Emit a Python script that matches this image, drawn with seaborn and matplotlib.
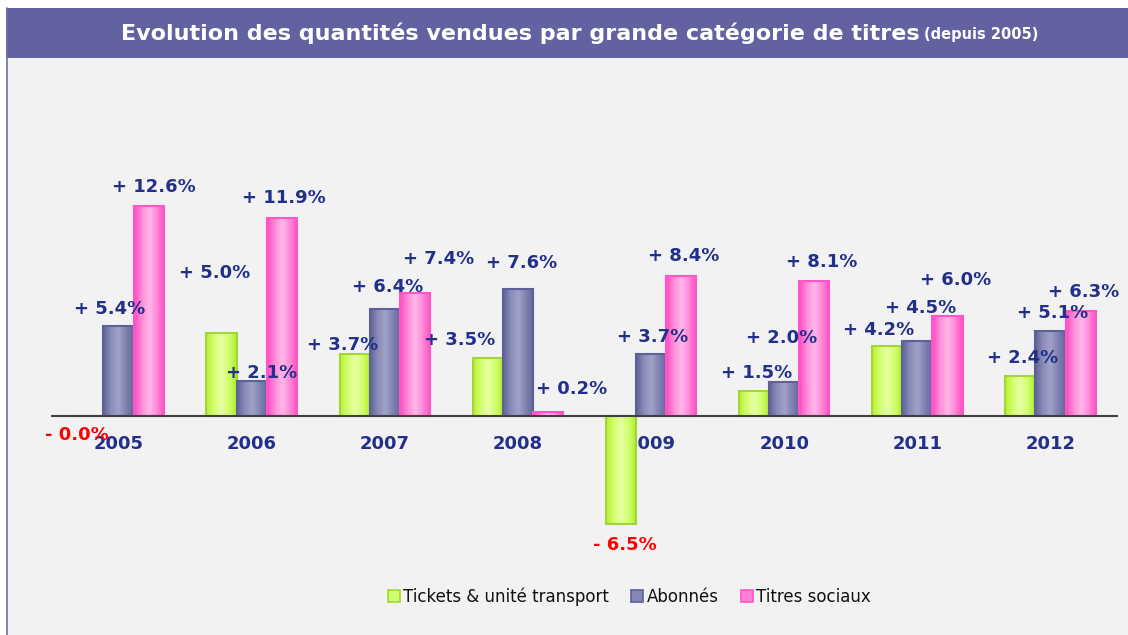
import numpy as np
import pandas as pd
import matplotlib
matplotlib.use("Agg")
import matplotlib.pyplot as plt
from matplotlib.patches import Rectangle
from matplotlib.lines import Line2D
from matplotlib.colors import LinearSegmentedColormap
import seaborn as sns

# données (% d'évolution annuelle)
years = ["2005", "2006", "2007", "2008", "2009", "2010", "2011", "2012"]
tickets = [-0.04, 5.0, 3.7, 3.5, -6.5, 1.5, 4.2, 2.4]
abonnes = [5.4, 2.1, 6.4, 7.6, 3.7, 2.0, 4.5, 5.1]
sociaux = [12.6, 11.9, 7.4, 0.2, 8.4, 8.1, 6.0, 6.3]
series_names = ["Tickets & unité transport", "Abonnés", "Titres sociaux"]

# décalage des étiquettes (pixels) comme dans l'original
label_offsets = [
    [(-12, -19), (-7, 60), (-12, 9), (-28, 18), (4, -21), (3, 18), (-9, 16), (2, 18)],
    [(-9, 17), (10, 8), (3, 22), (4, 26), (2, 17), (-3, 44), (3, 33), (2, 18)],
    [(5, 19), (2, 20), (24, 34), (24, 23), (2, 20), (7, 19), (8, 36), (3, 19)],
]

face_colors = ["#D0FF6E", "#8486B4", "#FF80D6"]
edge_colors = ["#A2D636", "#5E6198", "#FF55C8"]
gradients = [
    ["#B8F032", "#D2FF6E", "#E6FFA4", "#CEFF68", "#B0EA2C"],
    ["#5F6298", "#8A8CB8", "#A0A2C8", "#8082B0", "#62659A"],
    ["#FF4CC4", "#FF8CD8", "#FFB8EA", "#FF88D6", "#FF4CC4"],
]
navy = "#22308A"

df = pd.DataFrame({
    "annee": years * 3,
    "serie": np.repeat(series_names, len(years)),
    "valeur": tickets + abonnes + sociaux,
})

sns.set_style("white")
plt.rcParams["font.family"] = ["DejaVu Sans"]

fig = plt.figure(figsize=(11.28, 6.35), dpi=100, facecolor="white")

# fond gris + bandeau titre
fig.patches.append(Rectangle((7 / 1128, 0), 1, 577 / 635, transform=fig.transFigure,
                             facecolor="#F2F2F2", edgecolor="none", zorder=-2))
fig.patches.append(Rectangle((6 / 1128, 577 / 635), 1, 50 / 635, transform=fig.transFigure,
                             facecolor="#6262A0", edgecolor="none", zorder=-2))
fig.lines.append(Line2D([6.5 / 1128, 6.5 / 1128], [0, 627 / 635], transform=fig.transFigure,
                        color="#7070A8", lw=1.2, zorder=-1))

ax = fig.add_axes([52 / 1128, 86 / 635, 1065 / 1128, 358 / 635])
ax.set_facecolor("none")

sns.barplot(data=df, x="annee", y="valeur", hue="serie", hue_order=series_names,
            palette=face_colors, width=0.68, ax=ax, legend=False, saturation=1)

grad = np.linspace(0, 1, 64).reshape(1, -1)
all_vals = [tickets, abonnes, sociaux]
for i, cont in enumerate(ax.containers):
    cmap = LinearSegmentedColormap.from_list(f"g{i}", gradients[i])
    for j, p in enumerate(cont.patches):
        x0, w = p.get_x(), p.get_width()
        y0, h = p.get_y(), p.get_height()
        im = ax.imshow(grad, cmap=cmap, aspect="auto", zorder=0.9,
                       extent=[x0, x0 + w, min(y0, y0 + h), max(y0, y0 + h)])
        im.set_clip_path(p)
        p.set_facecolor("none")
        p.set_edgecolor(edge_colors[i])
        p.set_linewidth(1.5)
        v = all_vals[i][j]
        xc = x0 + w / 2
        txt = f"{'-' if v < 0 else '+'} {abs(v):.1f}%"
        ax.annotate(txt, xy=(xc, v), xytext=label_offsets[i][j], textcoords="offset pixels",
                    ha="center", va="center", fontsize=13, fontweight="bold",
                    color="#FF0000" if v < 0 else navy, annotation_clip=False, zorder=5)

ax.set_ylim(-8, 13.5)
ax.set_xlim(-0.5, len(years) - 0.5)
for s in ["top", "left", "right"]:
    ax.spines[s].set_visible(False)
ax.spines["bottom"].set_position(("data", 0))
ax.spines["bottom"].set_color("#404040")
ax.spines["bottom"].set_linewidth(1.5)
ax.spines["bottom"].set_zorder(4)
ax.set_yticks([])
ax.set_xticks(np.arange(-0.5, len(years)), minor=True)
ax.tick_params(axis="x", which="minor", length=6, width=1.2, color="#404040", direction="out")
ax.tick_params(axis="x", which="major", length=0, pad=14, labelsize=13, labelcolor=navy)
for lab in ax.get_xticklabels():
    lab.set_fontweight("bold")
ax.set_xlabel("")
ax.set_ylabel("")

# titre
t1 = fig.text(121 / 1128, 602 / 635, "Evolution des quantités vendues par grande catégorie de titres",
              color="white", fontsize=16, fontweight="bold", ha="left", va="center")
fig.canvas.draw()
bb = t1.get_window_extent()
fig.text(bb.x1 / 1128 + 4 / 1128, 601 / 635, "(depuis 2005)", color="white", fontsize=10.5,
         fontweight="bold", ha="left", va="center")

# légende
handles = [Line2D([], [], marker="s", ls="", markersize=8, markerfacecolor=face_colors[k],
                  markeredgecolor=edge_colors[k], markeredgewidth=1.2) for k in range(3)]
fig.legend(handles, series_names, loc="center", bbox_to_anchor=(629 / 1128, 38 / 635), ncol=3,
           frameon=False, fontsize=12, handletextpad=0.15, columnspacing=1.3, handlelength=0.8,
           labelcolor="#111111")

fig.savefig("out.png", dpi=100, facecolor="white")
